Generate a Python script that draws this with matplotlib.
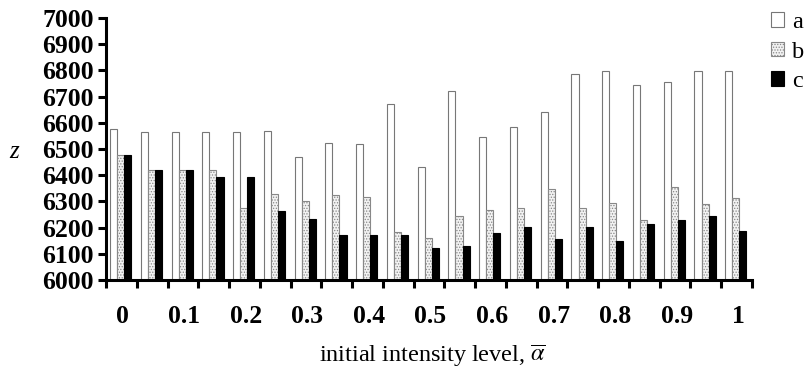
import matplotlib
matplotlib.use("Agg")
import matplotlib.pyplot as plt
from matplotlib.patches import Patch
import numpy as np

plt.rcParams['font.family'] = ['Liberation Serif', 'DejaVu Serif']
plt.rcParams['mathtext.fontset'] = 'stix'
plt.rcParams['hatch.linewidth'] = 0.6

tick_labels = ["0", "0.1", "0.2", "0.3", "0.4", "0.5", "0.6", "0.7", "0.8", "0.9", "1"]
series_names = ["a", "b", "c"]
a_vals = [6576, 6564, 6564, 6564, 6564, 6570, 6469, 6522, 6518, 6671, 6433,
          6721, 6545, 6583, 6641, 6786, 6797, 6744, 6755, 6797, 6797]
b_vals = [6476, 6418, 6418, 6418, 6276, 6327, 6300, 6325, 6317, 6182, 6159,
          6246, 6266, 6276, 6346, 6274, 6293, 6228, 6354, 6289, 6312]
c_vals = [6476, 6418, 6418, 6394, 6394, 6264, 6232, 6173, 6173, 6173, 6124,
          6131, 6181, 6203, 6157, 6203, 6149, 6213, 6229, 6245, 6186]

fig = plt.figure(figsize=(8.08, 3.81), dpi=100)
ax = fig.add_axes([106/808, 1-280/381, (752-106)/808, (280-18)/381])

n = len(a_vals)
x = np.arange(n)
w = 0.23
ax.bar(x + 0.13 + w/2, a_vals, w, facecolor='white', edgecolor='#777777', linewidth=0.8, zorder=2)
ax.bar(x + 0.13 + 1.5*w, b_vals, w, facecolor='#f2f2f2', edgecolor='#888888', hatch='......', linewidth=0.8, zorder=2)
ax.bar(x + 0.13 + 2.5*w, c_vals, w, facecolor='black', edgecolor='black', linewidth=0.8, zorder=2)

ax.set_ylim(6000, 7000)
ax.set_xlim(0, n)
ax.set_yticks(np.arange(6000, 7001, 100))
ax.set_yticklabels([str(v) for v in range(6000, 7001, 100)], fontsize=18.5, fontweight='bold')

ax.set_xticks(np.arange(0, n, 2) + 0.55)
ax.set_xticklabels(tick_labels, fontsize=18.5, fontweight='bold')
ax.set_xticks(np.arange(0, n + 1), minor=True)
ax.tick_params(axis='x', which='major', length=0, pad=18)
ax.tick_params(axis='x', which='minor', length=6, width=2.2, direction='out')
ax.tick_params(axis='y', which='major', length=6, width=2.2, direction='out', pad=3)

for s in ['top', 'right']:
    ax.spines[s].set_visible(False)
for s in ['left', 'bottom']:
    ax.spines[s].set_linewidth(2.2)

fig.text(432/808, 1-356/381, r'initial intensity level, $\overline{\alpha}$', fontsize=17.5,
         ha='center', va='center')
fig.text(14/808, 1-152/381, 'z', fontsize=18, style='italic', ha='center', va='center')

handles = [Patch(facecolor='white', edgecolor='#777777', linewidth=0.8),
           Patch(facecolor='#f2f2f2', edgecolor='#888888', hatch='......', linewidth=0.8),
           Patch(facecolor='black', edgecolor='black', linewidth=0.8)]
fig.legend(handles, series_names, loc='upper left', bbox_to_anchor=(771/808, 1-12/381),
           frameon=False, fontsize=17.5, handlelength=0.55, handleheight=0.55,
           handletextpad=0.3, labelspacing=0.35, borderpad=0, borderaxespad=0)

fig.savefig('out.png', dpi=100)
